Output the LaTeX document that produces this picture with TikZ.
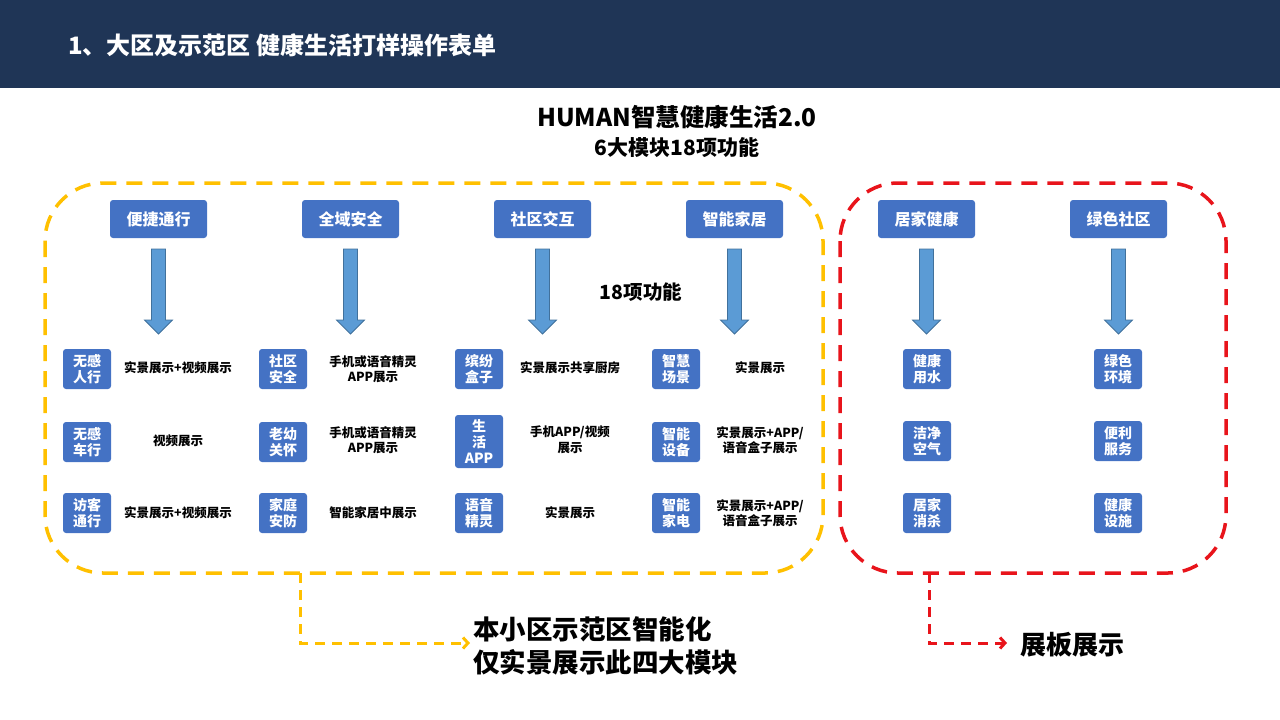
\documentclass[tikz,border=0pt]{standalone}
\usepackage{fontspec}
\setmainfont{Noto Sans CJK SC}
\usetikzlibrary{arrows.meta}
\definecolor{navy}{HTML}{1F3556}
\definecolor{boxblue}{HTML}{4472C4}
\definecolor{arrowblue}{HTML}{5B9BD5}
\definecolor{arrowedge}{HTML}{41719C}
\definecolor{gold}{HTML}{FFC000}
\definecolor{redline}{HTML}{E8141B}
\tikzset{
  cat/.style={fill=boxblue, rounded corners=3pt, minimum width=97pt, minimum height=38pt, inner sep=0pt,
    text=white, font=\bfseries\fontsize{16}{18}\selectfont},
  item/.style={fill=boxblue, rounded corners=3pt, minimum width=48pt, minimum height=40pt, inner sep=0pt,
    text=white, align=center, font=\bfseries\fontsize{14}{16}\selectfont},
  desc/.style={align=center, font=\bfseries\fontsize{12.5}{15.5}\selectfont},
  groupbox/.style={line width=3.5pt, dash pattern=on 16pt off 10pt, rounded corners=58pt},
  conn/.style={line width=3pt, dash pattern=on 10pt off 7pt, -{Straight Barb[length=5pt,width=11pt]}},
  downarrow/.pic={\filldraw[fill=arrowblue, draw=arrowedge, line width=0.8pt]
    (-7,0) -- (7,0) -- (7,71) -- (14,71) -- (0,85) -- (-14,71) -- (-7,71) -- cycle;},
  bigtext/.style={align=left, font=\bfseries\fontsize{26.5}{33}\selectfont}
}
\begin{document}
\begin{tikzpicture}[x=1pt,y=-1pt]
\useasboundingbox (0,0) rectangle (1280,720);
\fill[navy] (0,0) rectangle (1280,88);
\node[anchor=west, text=white, font=\bfseries\fontsize{24}{28}\selectfont, inner sep=0pt] (hdr) at (68,45) {1、大区及示范区 健康生活打样操作表单};

\node[font=\bfseries\fontsize{24.5}{28}\selectfont] (t1) at (677,117) {HUMAN智慧健康生活2.0};
\node[font=\bfseries\fontsize{21}{24}\selectfont] (t2) at (677,148) {6大模块18项功能};

% group outlines
\draw[groupbox, gold] (45,183) rectangle (823,573);
\draw[groupbox, redline] (840,183) rectangle (1226,573);

% category boxes
\node[cat] (c1) at (158.5,219) {便捷通行};
\node[cat] (c2) at (350.5,219) {全域安全};
\node[cat] (c3) at (542.5,219) {社区交互};
\node[cat] (c4) at (734.5,219) {智能家居};
\node[cat] (c5) at (926.5,219) {居家健康};
\node[cat] (c6) at (1118.5,219) {绿色社区};

% block arrows
\foreach \x in {158.5,350.5,542.5,734.5,926.5,1118.5}
  \pic at (\x,249) {downarrow};

\node[font=\bfseries\fontsize{19.5}{22}\selectfont] (f18) at (641,292) {18项功能};

% column 1
\node[item] (a1) at (87,369) {无感\\人行};
\node[item] (a2) at (87,442) {无感\\车行};
\node[item] (a3) at (87,513) {访客\\通行};
\node[desc] (d1) at (178,368) {实景展示+视频展示};
\node[desc] (d2) at (178,441) {视频展示};
\node[desc] (d3) at (178,513) {实景展示+视频展示};
% column 2
\node[item] (b1) at (283,369) {社区\\安全};
\node[item] (b2) at (283,442) {老幼\\关怀};
\node[item] (b3) at (283,513) {家庭\\安防};
\node[desc] (e1) at (373,369) {手机或语音精灵\\APP展示};
\node[desc] (e2) at (373,440) {手机或语音精灵\\APP展示};
\node[desc] (e3) at (373,513) {智能家居中展示};
% column 3
\node[item] (g1) at (479,369) {缤纷\\盒子};
\node[item, minimum height=53pt] (g2) at (479,441.5) {生\\活\\APP};
\node[item] (g3) at (479,513) {语音\\精灵};
\node[desc] (h1) at (570,368) {实景展示共享厨房};
\node[desc] (h2) at (570,440) {手机APP/视频\\展示};
\node[desc] (h3) at (570,513) {实景展示};
% column 4
\node[item] (k1) at (676,369) {智慧\\场景};
\node[item] (k2) at (676,442) {智能\\设备};
\node[item] (k3) at (676,513) {智能\\家电};
\node[desc] (m1) at (760,368) {实景展示};
\node[desc] (m2) at (760,440) {实景展示+APP/\\语音盒子展示};
\node[desc] (m3) at (760,513) {实景展示+APP/\\语音盒子展示};
% red group items
\node[item] (r1) at (927,369) {健康\\用水};
\node[item] (r2) at (927,441) {洁净\\空气};
\node[item] (r3) at (927,513) {居家\\消杀};
\node[item] (s1) at (1118,369) {绿色\\环境};
\node[item] (s2) at (1118,441) {便利\\服务};
\node[item] (s3) at (1118,513) {健康\\设施};

% bottom notes
\node[bigtext, anchor=west, inner sep=0pt] (n1) at (473,646) {本小区示范区智能化\\仅实景展示此四大模块};
\node[font=\bfseries\fontsize{26}{30}\selectfont, anchor=west, inner sep=0pt] (n2) at (1020,645) {展板展示};

\coordinate (ys) at (300,573);
\coordinate (yc) at (300,643);
\coordinate (ye) at (470,643);
\draw[conn, gold] (ys) -- (yc) -- (ye);
\coordinate (rs) at (929,573);
\coordinate (rc) at (929,643);
\coordinate (re) at (1007,643);
\draw[conn, redline] (rs) -- (rc) -- (re);
\end{tikzpicture}
\end{document}
